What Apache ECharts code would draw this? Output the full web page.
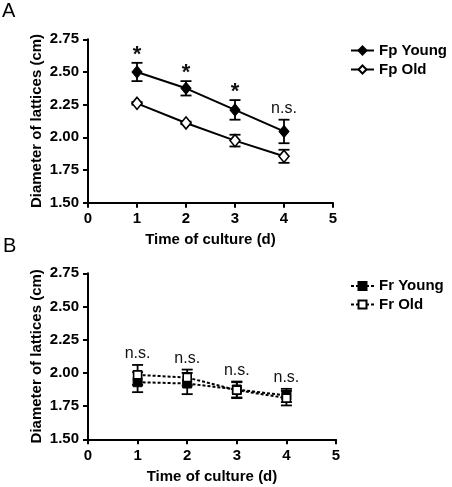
<!DOCTYPE html>
<html>
<head>
<meta charset="utf-8">
<script src="https://cdn.jsdelivr.net/npm/echarts@6/dist/echarts.min.js"></script>
<style>html,body{margin:0;padding:0;background:#fff}#c{width:452px;height:487px}</style>
</head>
<body>
<div id="c"></div>
<script>
// ---- data ----
const days = [1, 2, 3, 4];
const yTicks = ['1.50', '1.75', '2.00', '2.25', '2.50', '2.75'];
const fpYoung = [2.50, 2.375, 2.21, 2.045];
const fpYoungErr = [0.07, 0.055, 0.075, 0.09];
const fpOld = [2.26, 2.11, 1.975, 1.855];
const fpOldErr = [0.01, 0.01, 0.045, 0.05];
const frYoung = [1.93, 1.92, 1.875, 1.83];
const frYoungErr = [0.075, 0.08, 0.06, 0.05];
const frOld = [1.985, 1.965, 1.87, 1.81];
const frOldErr = [0.075, 0.06, 0.06, 0.055];
const annA = ['*', '*', '*', 'n.s.'];
const annB = ['n.s.', 'n.s.', 'n.s.', 'n.s.'];

const FONT = 'Liberation Sans, Arial, sans-serif';

function pts(v) { return days.map((d, i) => [d, v[i]]); }
function errData(v, e) { return days.map((d, i) => [d, v[i], e[i]]); }

function errRender(params, api) {
  const x = api.value(0), y = api.value(1), e = api.value(2);
  const hi = api.coord([x, y + e]), lo = api.coord([x, y - e]);
  const w = 5.5;
  const st = { stroke: '#000', lineWidth: 1.8 };
  return {
    type: 'group',
    children: [
      { type: 'line', shape: { x1: hi[0], y1: hi[1], x2: lo[0], y2: lo[1] }, style: st },
      { type: 'line', shape: { x1: hi[0] - w, y1: hi[1], x2: hi[0] + w, y2: hi[1] }, style: st },
      { type: 'line', shape: { x1: lo[0] - w, y1: lo[1], x2: lo[0] + w, y2: lo[1] }, style: st }
    ]
  };
}

function annRender(params, api) {
  const x = api.value(0), y = api.value(1);
  const txt = api.value(2);
  const p = api.coord([x, y]);
  const star = txt === '*';
  return {
    type: 'text',
    style: {
      x: p[0], y: star ? p[1] + 3 : p[1] - 3,
      text: txt,
      fill: '#111',
      font: star ? 'bold 22px ' + FONT : '16px ' + FONT,
      textAlign: 'center', textVerticalAlign: 'bottom'
    }
  };
}

const annAData = days.map((d, i) => [d, fpYoung[i] + fpYoungErr[i], annA[i]]);
const annBData = days.map((d, i) => [d, Math.max(frYoung[i] + frYoungErr[i], frOld[i] + frOldErr[i]), annB[i]]);

function xAx(idx) {
  return {
    type: 'value', gridIndex: idx, min: 0, max: 5, interval: 1,
    name: 'Time of culture (d)', nameLocation: 'middle', nameGap: 30, nameMoveOverlap: false,
    nameTextStyle: { fontFamily: FONT, fontWeight: 'bold', fontSize: 15, color: '#000' },
    axisLine: { show: true, onZero: false, lineStyle: { color: '#000', width: 2 } },
    axisTick: { show: true, length: 5, lineStyle: { color: '#000', width: 2 } },
    axisLabel: { fontFamily: FONT, fontWeight: 'bold', fontSize: 15, color: '#000', margin: 9 },
    splitLine: { show: false }
  };
}
function yAx(idx) {
  return {
    type: 'value', gridIndex: idx, min: 1.5, max: 2.75, interval: 0.25,
    name: 'Diameter of lattices (cm)', nameLocation: 'middle', nameGap: 44, nameMoveOverlap: false,
    nameTextStyle: { fontFamily: FONT, fontWeight: 'bold', fontSize: 15, color: '#000' },
    axisLine: { show: true, onZero: false, lineStyle: { color: '#000', width: 2 } },
    axisTick: { show: true, length: 5, lineStyle: { color: '#000', width: 2 } },
    axisLabel: { fontFamily: FONT, fontWeight: 'bold', fontSize: 15, color: '#000', margin: 9,
      formatter: v => yTicks[Math.round((v - 1.5) / 0.25)] },
    splitLine: { show: false }
  };
}

const legendText = { fontFamily: FONT, fontWeight: 'bold', fontSize: 15, color: '#000', lineHeight: 15 };

const option = {
  animation: false,
  backgroundColor: '#fff',
  grid: [
    { left: 88, right: 119, top: 39.3, height: 163.4 },
    { left: 88, right: 116, top: 273.3, height: 166 }
  ],
  xAxis: [xAx(0), xAx(1)],
  yAxis: [yAx(0), yAx(1)],
  legend: [
    { data: ['Fp Young', 'Fp Old'], orient: 'vertical', left: 350, top: 43, itemWidth: 23, itemHeight: 10, itemGap: 4, textStyle: legendText, padding: 0 },
    { data: ['Fr Young', 'Fr Old'], orient: 'vertical', left: 350, top: 278.5, itemWidth: 23, itemHeight: 10, itemGap: 3.5, textStyle: legendText, padding: 0 }
  ],
  graphic: [
    { type: 'text', left: 2, top: 1, style: { text: 'A', font: '20px ' + FONT, fill: '#000' } },
    { type: 'text', left: 3, top: 236, style: { text: 'B', font: '20px ' + FONT, fill: '#000' } }
  ],
  series: [
    { type: 'custom', xAxisIndex: 0, yAxisIndex: 0, renderItem: errRender, data: errData(fpYoung, fpYoungErr), z: 1, silent: true },
    { type: 'custom', xAxisIndex: 0, yAxisIndex: 0, renderItem: errRender, data: errData(fpOld, fpOldErr), z: 1, silent: true },
    { name: 'Fp Young', type: 'line', xAxisIndex: 0, yAxisIndex: 0, data: pts(fpYoung), symbol: 'diamond', symbolSize: [10, 12],
      lineStyle: { color: '#000', width: 2 }, itemStyle: { color: '#000', borderColor: '#000', borderWidth: 1 }, z: 3 },
    { name: 'Fp Old', type: 'line', xAxisIndex: 0, yAxisIndex: 0, data: pts(fpOld), symbol: 'diamond', symbolSize: [10, 12],
      lineStyle: { color: '#000', width: 2 }, itemStyle: { color: '#fff', borderColor: '#000', borderWidth: 1.6 }, z: 3 },
    { type: 'custom', xAxisIndex: 0, yAxisIndex: 0, renderItem: annRender, data: annAData, z: 4, silent: true },

    { type: 'custom', xAxisIndex: 1, yAxisIndex: 1, renderItem: errRender, data: errData(frYoung, frYoungErr), z: 1, silent: true },
    { type: 'custom', xAxisIndex: 1, yAxisIndex: 1, renderItem: errRender, data: errData(frOld, frOldErr), z: 1, silent: true },
    { name: 'Fr Young', type: 'line', xAxisIndex: 1, yAxisIndex: 1, data: pts(frYoung), symbol: 'rect', symbolSize: 9,
      lineStyle: { color: '#000', width: 2, type: [3, 2] }, itemStyle: { color: '#000', borderColor: '#000', borderWidth: 1 }, z: 3 },
    { name: 'Fr Old', type: 'line', xAxisIndex: 1, yAxisIndex: 1, data: pts(frOld), symbol: 'rect', symbolSize: 8,
      lineStyle: { color: '#000', width: 2, type: [3, 2] }, itemStyle: { color: '#fff', borderColor: '#000', borderWidth: 1.6 }, z: 3 },
    { type: 'custom', xAxisIndex: 1, yAxisIndex: 1, renderItem: annRender, data: annBData, z: 4, silent: true }
  ]
};

const chart = echarts.init(document.getElementById('c'), null, { renderer: 'canvas' });
chart.setOption(option);
</script>
</body>
</html>
